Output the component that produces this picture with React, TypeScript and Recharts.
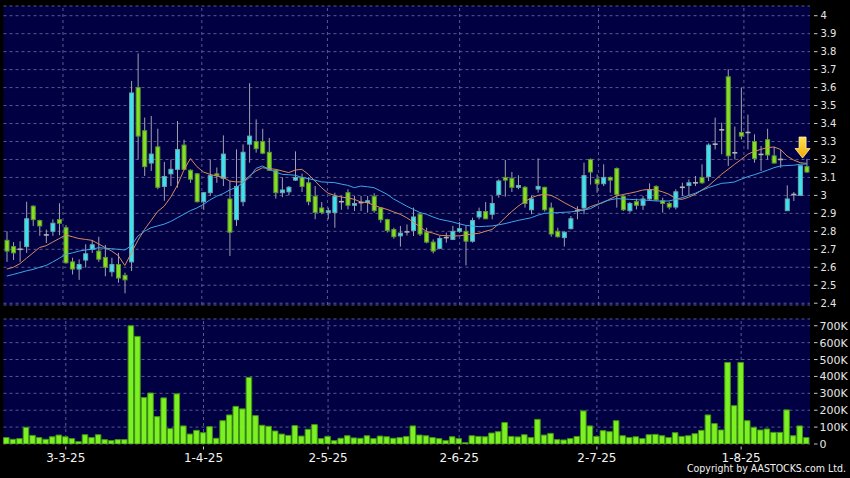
import React from 'react'
import {
  ComposedChart, BarChart, Bar, Line,
  XAxis, YAxis, CartesianGrid, ReferenceLine, ReferenceDot,
} from 'recharts'

// trading days shown on the chart
const FEB_DAYS = [18, 19, 20, 21, 24, 25, 26, 27, 28]
const MAR_DAYS = [3, 4, 5, 6, 7, 10, 11, 12, 13, 14, 17, 18, 19, 20, 21, 24, 25, 26, 27, 28, 31]
const APR_DAYS = [1, 2, 3, 7, 8, 9, 10, 11, 14, 15, 16, 17, 22, 23, 24, 25, 28, 29, 30]
const MAY_DAYS = [2, 6, 7, 8, 9, 12, 13, 14, 15, 16, 19, 20, 21, 22, 23, 26, 27, 28, 29, 30]
const JUN_DAYS = [2, 3, 4, 5, 6, 9, 10, 11, 12, 13, 16, 17, 18, 19, 20, 23, 24, 25, 26, 27, 30]
const JUL_DAYS = [2, 3, 4, 7, 8, 9, 10, 11, 14, 15, 16, 17, 18, 21, 22, 23, 24, 25, 28, 29, 30, 31]
const AUG_DAYS = [1, 4, 5, 6, 7, 8, 11, 12, 13, 14, 15]

const DATES = [
  ...FEB_DAYS.map(d => `${d}-2-25`),
  ...MAR_DAYS.map(d => `${d}-3-25`),
  ...APR_DAYS.map(d => `${d}-4-25`),
  ...MAY_DAYS.map(d => `${d}-5-25`),
  ...JUN_DAYS.map(d => `${d}-6-25`),
  ...JUL_DAYS.map(d => `${d}-7-25`),
  ...AUG_DAYS.map(d => `${d}-8-25`),
]

const TICK_DATES = ['3-3-25', '1-4-25', '2-5-25', '2-6-25', '2-7-25', '1-8-25']
const PRICE_TICKS = [2.4, 2.5, 2.6, 2.7, 2.8, 2.9, 3, 3.1, 3.2, 3.3, 3.4, 3.5, 3.6, 3.7, 3.8, 3.9, 4]
const VOL_TICKS = [0, 100, 200, 300, 400, 500, 600, 700]

const OPEN = [
  2.75, 2.715, 2.70, 2.715, 2.94, 2.86, 2.78, 2.80, 2.865, 2.82,
  2.63, 2.59, 2.64, 2.70, 2.69, 2.655, 2.575, 2.615, 2.555, 2.63,
  3.60, 3.36, 3.18, 3.27, 3.05, 3.12, 3.145, 3.28, 3.14, 3.12,
  2.965, 3.015, 3.12, 3.095, 2.98, 2.865, 2.965, 3.285, 3.30, 3.30,
  3.24, 3.14, 3.015, 3.02, 3.085, 3.10, 3.07, 2.995, 2.93, 2.905,
  2.905, 2.965, 3.015, 2.945, 2.96, 2.96, 2.995, 2.93, 2.865, 2.81,
  2.775, 2.797, 2.805, 2.895, 2.795, 2.74, 2.705, 2.765, 2.755, 2.80,
  2.80, 2.745, 2.88, 2.91, 2.895, 3.005, 3.10, 3.095, 3.045, 3.045,
  2.92, 3.035, 3.045, 2.93, 2.80, 2.765, 2.815, 2.915, 2.93, 3.20,
  3.09, 3.065, 3.10, 3.15, 2.995, 2.915, 2.965, 2.945, 2.98, 3.05,
  2.97, 2.955, 2.935, 3.045, 3.055, 3.07, 3.10, 3.105, 3.285, 3.365,
  3.66, 3.237, 3.35, 3.35, 3.30, 3.228, 3.31, 3.22, 3.20, 2.915,
  3.005, 3.0, 3.16,
]
const HIGH = [
  2.80, 2.74, 2.745, 2.965, 2.945, 2.865, 2.81, 2.867, 2.956, 2.835,
  2.653, 2.644, 2.728, 2.75, 2.77, 2.724, 2.653, 2.68, 2.57, 3.637,
  3.79, 3.433, 3.442, 3.371, 3.186, 3.20, 3.414, 3.31, 3.145, 3.125,
  3.02, 3.20, 3.155, 3.334, 3.08, 3.256, 3.284, 3.624, 3.423, 3.371,
  3.32, 3.145, 3.10, 3.052, 3.245, 3.121, 3.102, 3.052, 2.963, 2.932,
  3.015, 2.997, 3.034, 2.997, 2.997, 2.997, 3.012, 2.935, 2.87, 2.82,
  2.83, 2.838, 2.932, 2.904, 2.82, 2.755, 2.774, 2.793, 2.83, 2.852,
  2.83, 2.876, 2.932, 2.963, 2.997, 3.089, 3.197, 3.13, 3.112, 3.052,
  3.0, 3.206, 3.048, 2.96, 2.82, 2.80, 2.885, 2.94, 3.182, 3.205,
  3.117, 3.173, 3.105, 3.155, 3.0, 2.963, 2.982, 2.997, 3.067, 3.056,
  2.987, 2.965, 3.034, 3.071, 3.089, 3.108, 3.173, 3.29, 3.433, 3.405,
  3.702, 3.383, 3.60, 3.45, 3.34, 3.275, 3.371, 3.271, 3.253, 3.056,
  3.019, 3.165, 3.204,
]
const LOW = [
  2.63, 2.64, 2.63, 2.68, 2.83, 2.775, 2.735, 2.775, 2.778, 2.62,
  2.56, 2.53, 2.598, 2.68, 2.63, 2.55, 2.548, 2.514, 2.455, 2.579,
  3.20, 3.108, 3.136, 3.034, 2.97, 3.052, 3.043, 3.14, 3.07, 2.96,
  2.92, 2.997, 3.07, 3.052, 2.663, 2.83, 2.94, 3.182, 3.238, 3.229,
  3.136, 2.982, 2.99, 3.0, 3.08, 3.019, 2.945, 2.867, 2.895, 2.867,
  2.82, 2.92, 2.922, 2.913, 2.913, 2.904, 2.904, 2.848, 2.793, 2.759,
  2.715, 2.776, 2.774, 2.774, 2.733, 2.677, 2.70, 2.737, 2.752, 2.793,
  2.61, 2.737, 2.867, 2.867, 2.867, 2.987, 2.993, 3.019, 3.034, 2.932,
  2.895, 3.015, 2.91, 2.77, 2.765, 2.715, 2.81, 2.867, 2.895, 3.06,
  3.015, 3.052, 3.015, 2.932, 2.913, 2.904, 2.922, 2.919, 2.969, 2.969,
  2.904, 2.922, 2.922, 2.997, 3.0, 3.052, 3.065, 3.08, 3.256, 3.229,
  3.164, 3.20, 3.312, 3.256, 3.182, 3.136, 3.20, 3.178, 3.154, 2.913,
  2.969, 2.998, 3.126,
]
const CLOSE = [
  2.69, 2.68, 2.70, 2.87, 2.865, 2.83, 2.78, 2.845, 2.845, 2.625,
  2.59, 2.615, 2.675, 2.725, 2.645, 2.60, 2.615, 2.54, 2.53, 3.57,
  3.33, 3.16, 3.23, 3.045, 3.105, 3.145, 3.255, 3.145, 3.09, 2.965,
  3.015, 3.11, 3.11, 3.23, 2.795, 3.05, 3.24, 3.33, 3.26, 3.235,
  3.14, 3.015, 3.03, 3.045, 3.10, 3.05, 2.965, 2.905, 2.905, 2.915,
  2.995, 2.965, 2.945, 2.955, 2.96, 2.97, 2.915, 2.865, 2.805, 2.77,
  2.79, 2.797, 2.88, 2.785, 2.74, 2.69, 2.76, 2.765, 2.80, 2.815,
  2.745, 2.86, 2.91, 2.87, 2.955, 3.08, 3.085, 3.045, 3.055, 2.955,
  2.98, 3.05, 2.92, 2.785, 2.77, 2.795, 2.87, 2.915, 3.11, 3.13,
  3.065, 3.10, 3.085, 3.005, 2.92, 2.955, 2.945, 2.98, 3.03, 2.975,
  2.955, 2.935, 3.02, 3.045, 3.07, 3.07, 3.07, 3.28, 3.285, 3.365,
  3.22, 3.237, 3.33, 3.35, 3.205, 3.228, 3.225, 3.18, 3.20, 2.98,
  3.005, 3.165, 3.13,
]
// short (orange) and long (blue) moving averages
const MA_SHORT = [
  2.59, 2.60, 2.62, 2.65, 2.68, 2.71, 2.72, 2.74, 2.76, 2.78,
  2.77, 2.76, 2.755, 2.75, 2.73, 2.71, 2.69, 2.665, 2.61, 2.68,
  2.75, 2.81, 2.86, 2.91, 2.94, 2.99, 3.055, 3.14, 3.205, 3.16,
  3.13, 3.117, 3.108, 3.10, 3.08, 3.075, 3.075, 3.108, 3.136, 3.154,
  3.149, 3.145, 3.136, 3.127, 3.141, 3.145, 3.117, 3.08, 3.043, 3.012,
  3.0, 2.991, 2.986, 2.978, 2.963, 2.96, 2.945, 2.932, 2.922, 2.908,
  2.895, 2.875, 2.852, 2.825, 2.80, 2.79, 2.778, 2.776, 2.774, 2.775,
  2.78, 2.785, 2.789, 2.80, 2.81, 2.84, 2.876, 2.91, 2.94, 2.965,
  2.987, 3.0, 3.006, 3.0, 2.982, 2.96, 2.941, 2.922, 2.917, 2.937,
  2.95, 2.96, 2.98, 2.997, 3.005, 3.012, 3.02, 3.03, 3.033, 3.03,
  3.02, 3.006, 2.982, 2.978, 2.99, 3.006, 3.03, 3.052, 3.085, 3.117,
  3.145, 3.173, 3.20, 3.229, 3.245, 3.256, 3.266, 3.269, 3.256, 3.219,
  3.197, 3.182, 3.178,
]
const MA_LONG = [
  2.551, 2.56, 2.57, 2.58, 2.588, 2.60, 2.61, 2.629, 2.65, 2.672,
  2.68, 2.69, 2.696, 2.70, 2.709, 2.706, 2.703, 2.70, 2.696, 2.72,
  2.774, 2.80, 2.82, 2.83, 2.84, 2.855, 2.875, 2.895, 2.915, 2.93,
  2.95, 2.975, 2.995, 3.01, 3.03, 3.045, 3.07, 3.10, 3.15, 3.164,
  3.145, 3.13, 3.117, 3.115, 3.112, 3.10, 3.093, 3.085, 3.075, 3.073,
  3.071, 3.063, 3.056, 3.043, 3.052, 3.048, 3.043, 3.025, 3.006, 2.98,
  2.96, 2.94, 2.922, 2.905, 2.895, 2.88, 2.867, 2.86, 2.852, 2.842,
  2.833, 2.83, 2.826, 2.828, 2.83, 2.836, 2.843, 2.852, 2.861, 2.868,
  2.876, 2.89, 2.90, 2.902, 2.904, 2.906, 2.908, 2.913, 2.919, 2.926,
  2.945, 2.965, 2.975, 2.982, 2.98, 2.978, 2.976, 2.974, 2.972, 2.969,
  2.968, 2.969, 2.978, 2.987, 3.0, 3.012, 3.028, 3.043, 3.055, 3.067,
  3.07, 3.075, 3.09, 3.104, 3.115, 3.127, 3.14, 3.154, 3.164, 3.166,
  3.168, 3.173, 3.175,
]
// volume in thousands of shares
const VOLUME_K = [
  38, 28, 32, 99, 51, 38, 28, 43, 53, 43,
  32, 14, 55, 38, 55, 26, 20, 26, 26, 700,
  637, 275, 302, 162, 273, 91, 297, 107, 59, 81,
  67, 103, 34, 138, 172, 223, 208, 394, 168, 111,
  105, 77, 59, 51, 109, 47, 87, 115, 32, 45,
  20, 34, 49, 36, 34, 49, 32, 47, 43, 34,
  38, 45, 107, 53, 49, 38, 32, 20, 43, 32,
  8, 49, 45, 43, 65, 73, 127, 45, 42, 55,
  38, 146, 53, 63, 26, 24, 32, 45, 196, 107,
  45, 79, 73, 138, 49, 38, 43, 32, 55, 57,
  49, 38, 67, 45, 49, 61, 81, 172, 121, 83,
  483, 227, 483, 138, 99, 83, 89, 69, 69, 202,
  49, 107, 38,
]

const ARROW_DATE = DATES[121]
const ARROW_PRICE = 3.208

const rows = DATES.map((date, i) => ({
  date,
  open: OPEN[i],
  high: HIGH[i],
  low: LOW[i],
  close: CLOSE[i],
  range: [LOW[i], HIGH[i]],
  maShort: MA_SHORT[i],
  maLong: MA_LONG[i],
  vol: VOLUME_K[i],
}))

const FONT = '"DejaVu Sans", Verdana, sans-serif'
const PLOT_BG = '#000042'
const GRID = '#5a5a8e'
const UP = '#38e4f0'
const UP_EDGE = '#6fa4ae'
const DOWN = '#84e01e'
const DOWN_EDGE = '#5f9636'
const FLAT = '#b4b4b4'

const PRICE_MARGIN = { top: 6, right: 0, bottom: 5, left: 3.5 }
const VOL_MARGIN = { top: 6, right: 0, bottom: 0, left: 3.5 }

function Candle(props: any) {
  const { x, y, width, height, payload } = props
  if (!payload || height == null) return null
  const { open, close, high, low } = payload
  const top = Math.min(y, y + height)
  const h = Math.abs(height)
  const py = (v: number) => top + ((high - v) / (high - low)) * h
  const cx = x + width / 2
  const bTop = py(Math.max(open, close))
  const bBot = py(Math.min(open, close))
  const flat = open === close
  const fill = flat ? FLAT : close > open ? UP : DOWN
  const edge = flat ? FLAT : close > open ? UP_EDGE : DOWN_EDGE
  return (
    <g>
      <line x1={cx} x2={cx} y1={py(high)} y2={py(low)} stroke="#a2a2b0" strokeWidth={1} />
      {flat ? (
        <rect x={x} y={bTop - 0.8} width={width} height={1.6} fill={FLAT} />
      ) : (
        <rect x={x + 0.5} y={bTop} width={width - 1} height={Math.max(bBot - bTop, 1.5)}
          fill={fill} stroke={edge} strokeWidth={1} />
      )}
    </g>
  )
}

function Arrow(props: any) {
  const { cx, cy } = props
  if (cx == null || cy == null) return null
  const x = cx + 2.4
  const d = `M${x} ${cy} L${x - 7.5} ${cy - 9.5} L${x - 3.5} ${cy - 9.5} L${x - 3.5} ${cy - 21}
    L${x + 3.5} ${cy - 21} L${x + 3.5} ${cy - 9.5} L${x + 7.5} ${cy - 9.5} Z`
  return (
    <g>
      <defs>
        <linearGradient id="arrowFill" x1="0" y1="0" x2="0" y2="1">
          <stop offset="0%" stopColor="#ffe255" />
          <stop offset="100%" stopColor="#f2a800" />
        </linearGradient>
      </defs>
      <path d={d} fill="url(#arrowFill)" stroke="#fff0a8" strokeWidth={0.8} />
    </g>
  )
}

function PriceTick(props: any) {
  const { x, y, payload } = props
  const v = payload.value
  const label = Number.isInteger(v) ? String(v) : v.toFixed(1)
  return (
    <g>
      <line x1={x + 4} x2={x + 7.5} y1={y} y2={y} stroke="#c8c8c8" />
      <text x={x + 10.5} y={y} dy="0.36em" fontSize={10} fill="#e6e6e6" fontFamily={FONT}>{label}</text>
    </g>
  )
}

function VolTick(props: any) {
  const { x, y, payload } = props
  const v = payload.value
  return (
    <g>
      <line x1={x + 4} x2={x + 7.5} y1={y} y2={y} stroke="#c8c8c8" />
      <text x={x + 9.5} y={y} dy="0.36em" fontSize={11} fill="#e6e6e6" fontFamily={FONT}>
        {v === 0 ? '0' : `${v}K`}
      </text>
    </g>
  )
}

function DateTick(props: any) {
  const { x, y, payload } = props
  if (!TICK_DATES.includes(payload.value)) return <g />
  return (
    <g>
      <line x1={x} x2={x} y1={y + 2.5} y2={y + 5.5} stroke="#c8c8c8" />
      <text x={x} y={y + 17.8} textAnchor="middle" fontSize={12} fill="#f2f2f2" fontFamily={FONT}>
        {payload.value}
      </text>
    </g>
  )
}

const NoTick = () => <g />

const layer: React.CSSProperties = { position: 'absolute', left: 0, top: 0 }

export default function App() {
  return (
    <div style={{ position: 'absolute', left: 0, top: 0, width: 850, height: 478, background: '#000', overflow: 'hidden' }}>
      {/* price panel: grid layer underneath, marks on top */}
      <div style={{ position: 'absolute', left: 0, top: 0, width: 850, height: 310 }}>
        <div style={layer}>
          <ComposedChart width={850} height={310} data={rows} margin={PRICE_MARGIN}>
            <CartesianGrid fill={PLOT_BG} stroke={GRID} strokeDasharray="3 3" vertical={false} />
            <XAxis dataKey="date" hide />
            <YAxis orientation="right" width={40} type="number" domain={[2.39, 4.054]}
              ticks={PRICE_TICKS} interval={0} allowDataOverflow
              axisLine={false} tickLine={false} tickSize={0} tickMargin={0} tick={PriceTick} />
            {TICK_DATES.map(d => (
              <ReferenceLine key={d} x={d} stroke={GRID} strokeDasharray="3 3" />
            ))}
          </ComposedChart>
        </div>
        <div style={layer}>
          <ComposedChart width={850} height={310} data={rows} margin={PRICE_MARGIN}>
            <XAxis dataKey="date" hide />
            <YAxis orientation="right" width={40} type="number" domain={[2.39, 4.054]}
              ticks={PRICE_TICKS} allowDataOverflow axisLine={false} tickLine={false} tick={NoTick} />
            <Bar dataKey="range" barSize={5} shape={Candle} isAnimationActive={false} />
            <Line type="linear" dataKey="maShort" stroke="#d98a5e" strokeWidth={1} dot={false} isAnimationActive={false} />
            <Line type="linear" dataKey="maLong" stroke="#3ea6e8" strokeWidth={1} dot={false} isAnimationActive={false} />
            <ReferenceDot x={ARROW_DATE} y={ARROW_PRICE} shape={Arrow} />
          </ComposedChart>
        </div>
      </div>

      {/* volume panel: grid layer underneath, bars on top */}
      <div style={{ position: 'absolute', left: 0, top: 313, width: 850, height: 165 }}>
        <div style={layer}>
          <BarChart width={850} height={165} data={rows} margin={VOL_MARGIN}>
            <CartesianGrid fill={PLOT_BG} stroke={GRID} strokeDasharray="3 3" vertical={false} />
            <XAxis dataKey="date" height={34} interval={0} axisLine={false} tickLine={false}
              tickSize={0} tickMargin={0} tick={DateTick} />
            <YAxis orientation="right" width={40} type="number" domain={[0, 740]}
              ticks={VOL_TICKS} interval={0} allowDataOverflow
              axisLine={false} tickLine={false} tickSize={0} tickMargin={0} tick={VolTick} />
            {TICK_DATES.map(d => (
              <ReferenceLine key={d} x={d} stroke={GRID} strokeDasharray="3 3" />
            ))}
          </BarChart>
        </div>
        <div style={layer}>
          <BarChart width={850} height={165} data={rows} margin={VOL_MARGIN}>
            <XAxis dataKey="date" height={34} axisLine={false} tickLine={false} tick={NoTick} />
            <YAxis orientation="right" width={40} type="number" domain={[0, 740]}
              ticks={VOL_TICKS} allowDataOverflow axisLine={false} tickLine={false} tick={NoTick} />
            <Bar dataKey="vol" barSize={5.6} fill="#7cf022" stroke="#3f9414" strokeWidth={1} isAnimationActive={false} />
          </BarChart>
        </div>
      </div>

      <svg width={850} height={478} style={{ position: 'absolute', left: 0, top: 0, pointerEvents: 'none' }}>
        <text x={846} y={472} textAnchor="end" fontSize={10.5} fill="#f2f2f2" fontFamily={FONT}
          textLength={159} lengthAdjust="spacingAndGlyphs">
          Copyright by AASTOCKS.com Ltd.
        </text>
      </svg>
    </div>
  )
}
